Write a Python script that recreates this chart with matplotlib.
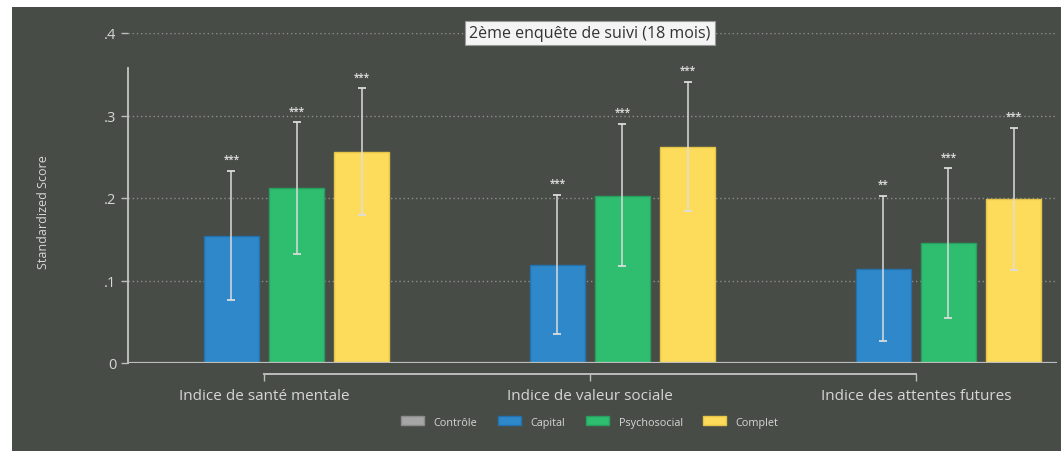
import matplotlib
matplotlib.use("Agg")
from matplotlib import pyplot as plt
from matplotlib.patches import Rectangle
import numpy as np

plt.rcParams['font.family'] = ['Open Sans', 'DejaVu Sans']

categories = ['Indice de santé mentale', 'Indice de valeur sociale', 'Indice des attentes futures']
groups = ['Contrôle', 'Capital', 'Psychosocial', 'Complet']
colors = ['#a6a6a6', '#2e88c9', '#2fbd70', '#fddc5c']
edges = ['#8c8c8c', '#2571ad', '#27a05f', '#e5c548']

# valeurs (Contrôle = référence 0)
values = {
    'Contrôle':     [0.0, 0.0, 0.0],
    'Capital':      [0.154, 0.119, 0.114],
    'Psychosocial': [0.212, 0.202, 0.145],
    'Complet':      [0.256, 0.262, 0.199],
}
ci_low = {
    'Capital':      [0.076, 0.035, 0.027],
    'Psychosocial': [0.132, 0.118, 0.055],
    'Complet':      [0.179, 0.184, 0.113],
}
ci_high = {
    'Capital':      [0.233, 0.204, 0.203],
    'Psychosocial': [0.292, 0.290, 0.236],
    'Complet':      [0.333, 0.341, 0.285],
}
stars = {
    'Capital':      ['***', '***', '**'],
    'Psychosocial': ['***', '***', '***'],
    'Complet':      ['***', '***', '***'],
}
yticks = [0, 0.1, 0.2, 0.3, 0.4]
ytick_labels = ['0', '.1', '.2', '.3', '.4']

bg = '#484c46'
txt = '#d6d6d6'
line = '#bdbdbd'

fig = plt.figure(figsize=(10.63, 4.52), dpi=100)
fig.patch.set_facecolor('white')
fig.add_artist(Rectangle((12/1063, 0), (1061-12)/1063, (452-8)/452,
                         transform=fig.transFigure, facecolor=bg, edgecolor='none', zorder=-10))

ax = fig.add_axes([128/1063, 88/452, 929/1063, 330/452])
ax.set_facecolor('none')

x = np.arange(len(categories))
pitch = 0.2
width = 0.169
for i, g in enumerate(groups):
    pos = x + (i - 1.5) * pitch
    ax.bar(pos, values[g], width, color=colors[i], edgecolor=edges[i], linewidth=1,
           label=g, zorder=3)
    if g in ci_low:
        v = np.array(values[g])
        lo = v - np.array(ci_low[g])
        hi = np.array(ci_high[g]) - v
        ax.errorbar(pos, v, yerr=[lo, hi], fmt='none', ecolor='#dedede', elinewidth=1.2,
                    capsize=3, capthick=1.4, alpha=0.9, zorder=4)
        for p, top, s in zip(pos, ci_high[g], stars[g]):
            ax.text(p, top + 0.007, s, ha='center', va='bottom', color=txt,
                    fontsize=7, fontweight='bold', zorder=5)

ax.axhline(0, color=line, lw=1.6, zorder=5)
ax.set_ylim(0, 0.4)
ax.set_xlim(-0.417, 2.433)
ax.set_yticks(yticks)
ax.set_yticklabels(ytick_labels)
ax.yaxis.grid(True, linestyle=(0, (1, 2)), color='#8e8e8e', lw=1, zorder=0)
ax.set_xticks(x)
ax.set_xticklabels(categories)

for s in ['top', 'right']:
    ax.spines[s].set_visible(False)
ax.spines['left'].set_bounds(0, 0.357)
ax.spines['left'].set_color(line)
ax.spines['left'].set_linewidth(1.4)
ax.spines['bottom'].set_position(('outward', 8))
ax.spines['bottom'].set_bounds(0, 2)
ax.spines['bottom'].set_color(line)
ax.spines['bottom'].set_linewidth(1.4)
ax.tick_params(axis='y', colors=line, labelcolor=txt, labelsize=10.5, length=5, width=1)
ax.tick_params(axis='x', colors=line, labelcolor=txt, labelsize=11, length=5, width=1, pad=5)

ax.set_ylabel('Standardized Score', color=txt, fontsize=9)
ax.yaxis.set_label_coords(-78/929, 0.46)

ax.text(1.0, 0.4, '2ème enquête de suivi (18 mois)', ha='center', va='center',
        fontsize=11.5, color='#333333', zorder=6,
        bbox=dict(boxstyle='square,pad=0.25', facecolor='#f4f4f4', edgecolor='#999999', lw=0.8))

leg = fig.legend(loc='center', bbox_to_anchor=(590/1063, 1 - 423/452), ncol=4, frameon=False,
                 fontsize=7.8, labelcolor=txt, handlelength=2.1, handleheight=0.9,
                 columnspacing=1.9, handletextpad=0.9)

plt.savefig('out.png', dpi=100, facecolor=fig.get_facecolor())
